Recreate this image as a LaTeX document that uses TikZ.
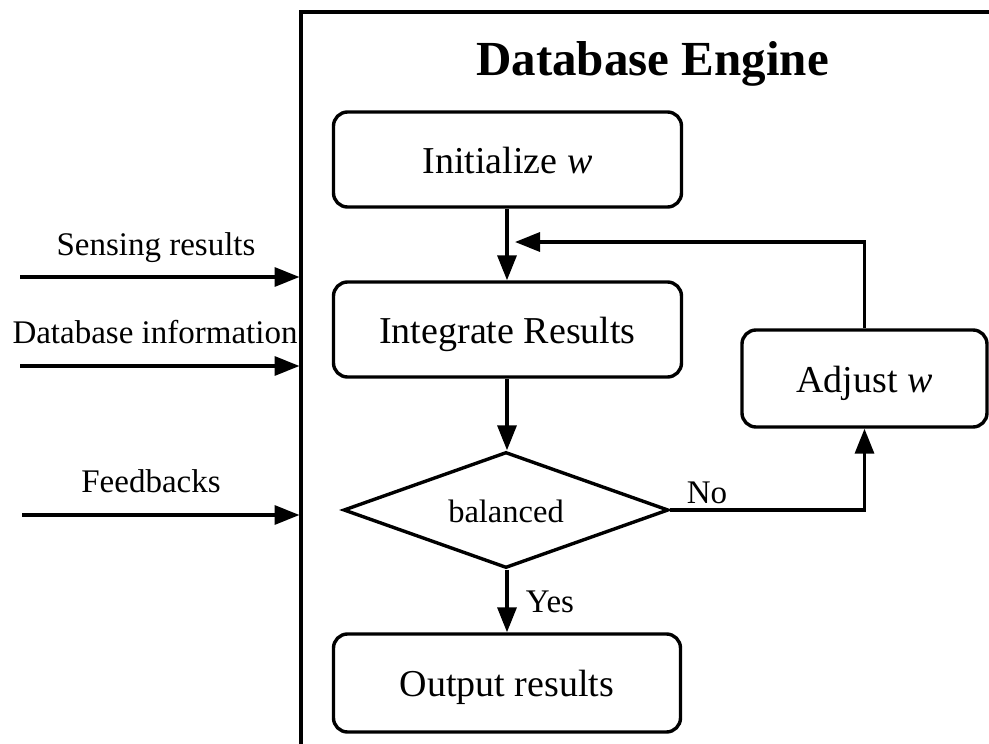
\documentclass[tikz,border=0pt]{standalone}
\usepackage{fontspec}
\setmainfont{Liberation Serif}
\usetikzlibrary{arrows.meta,shapes.geometric}
\begin{document}
\begin{tikzpicture}[x=1pt,y=-1pt,
  line width=3.4pt,
  >={Triangle[length=25pt,width=19pt]},
  stepbox/.style={draw,rounded corners=14pt,minimum width=348pt,inner sep=0pt,
    text height=27pt,text depth=0pt,font=\fontsize{38}{40}\selectfont},
  lbl/.style={inner sep=0pt,anchor=base,font=\fontsize{33}{36}\selectfont}]
\useasboundingbox (0,0) rectangle (989,744);
\draw (991,12) -- (301,12) -- (301,748);
\node[inner sep=0pt,anchor=base,font=\fontsize{49}{52}\selectfont\bfseries] (title) at (652.5,75) {Database Engine};
\node[stepbox,minimum height=95pt] (init) at (507.5,159.5) {Initialize \textit{w}};
\node[stepbox,minimum height=95pt] (integ) at (507.5,329.5) {Integrate Results};
\node[draw,diamond,aspect=2.8,inner sep=0pt,minimum width=325pt,minimum height=116pt,
  text height=24pt,text depth=0pt,font=\fontsize{32.5}{34}\selectfont] (bal) at (506,510) {balanced};
\node[stepbox,minimum height=98pt,minimum width=347pt] (out) at (507,683) {Output results};
\node[stepbox,minimum width=245pt,minimum height=97pt] (adj) at (864.5,378.5) {Adjust \textit{w}};
\coordinate (cx) at (507,0);
\draw[->] (init.south -| cx) -- (integ.north -| cx);
\draw[->] (integ.south -| cx) -- (bal.north -| cx);
\draw[->] (bal.south -| cx) -- (out.north -| cx);
\node[lbl] (yes) at (550,612) {Yes};
\draw[->] (bal.east) -| (adj.south);
\node[lbl] (no) at (707,503) {No};
\coordinate (fbend) at (515,242);
\draw[->] (adj.north) |- (fbend);
% inputs
\coordinate (s1) at (20,277); \coordinate (e1) at (299.5,277);
\coordinate (s2) at (20,366); \coordinate (e2) at (299.5,366);
\coordinate (s3) at (22,515); \coordinate (e3) at (299.5,515);
\draw[->] (s1) -- (e1);
\draw[->] (s2) -- (e2);
\draw[->] (s3) -- (e3);
\node[lbl] (l1) at (156,255) {Sensing results};
\node[lbl] (l2) at (155,343) {Database information};
\node[lbl] (l3) at (151,492) {Feedbacks};
\end{tikzpicture}
\end{document}
